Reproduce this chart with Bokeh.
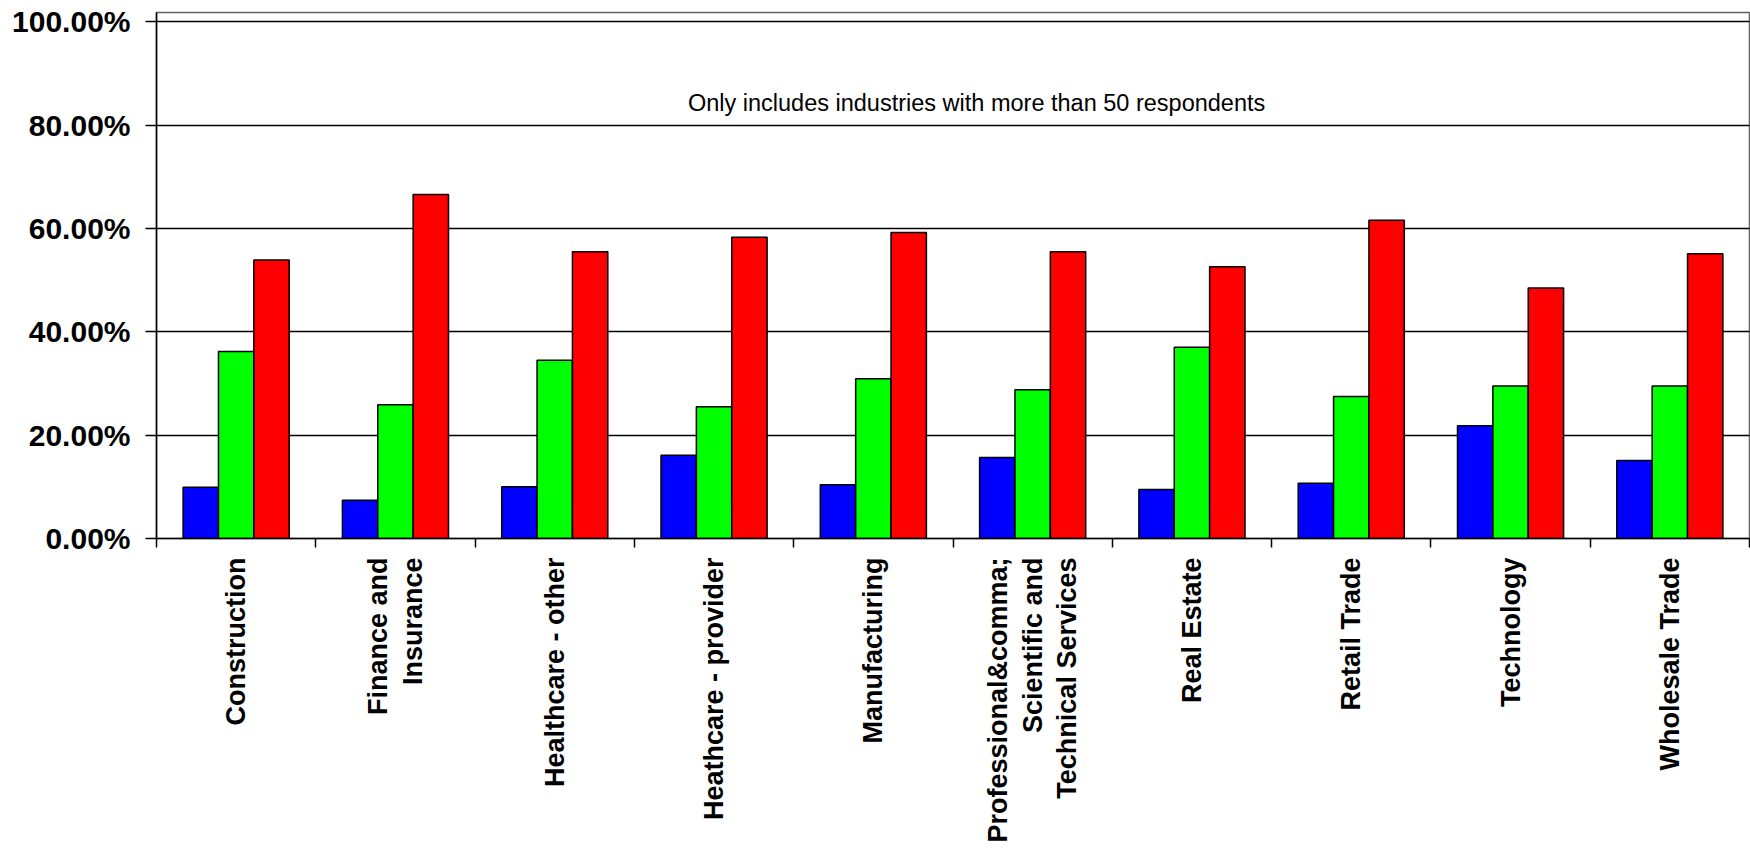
import math
import numpy as np
from bokeh.plotting import figure
from bokeh.models import (FixedTicker, NumeralTickFormatter, Range1d, Label,
                          ColumnDataSource)
from bokeh.embed import file_html
from bokeh.resources import INLINE

# ---- data ----
categories = [
    "Construction",
    "Finance and\nInsurance",
    "Healthcare - other",
    "Heathcare - provider",
    "Manufacturing",
    "Professional&comma;\nScientific and\nTechnical Services",
    "Real Estate",
    "Retail Trade",
    "Technology",
    "Wholesale Trade",
]
series_blue = [0.099, 0.074, 0.100, 0.161, 0.104, 0.157, 0.095, 0.107, 0.218, 0.151]
series_green = [0.362, 0.259, 0.345, 0.255, 0.309, 0.288, 0.370, 0.275, 0.295, 0.295]
series_red = [0.539, 0.666, 0.555, 0.583, 0.592, 0.555, 0.526, 0.616, 0.485, 0.551]
y_ticks = [0.0, 0.2, 0.4, 0.6, 0.8, 1.0]
note_text = "Only includes industries with more than 50 respondents"

n = len(categories)
idx = np.arange(n)
centers = idx + 0.5
bar_w = 0.222

p = figure(width=1750, height=852, output_backend="svg", toolbar_location=None,
           x_range=Range1d(0, n), y_range=Range1d(0, 1.018),
           min_border_left=156, min_border_right=1, min_border_top=12,
           min_border_bottom=314)
p.background_fill_color = "white"
p.border_fill_color = "white"
p.outline_line_color = "#606060"
p.outline_line_width = 1.5

series = [(series_blue, "#0000FF", -bar_w), (series_green, "#00FF00", 0.0),
          (series_red, "#FF0000", bar_w)]
for vals, col, off in series:
    src = ColumnDataSource(dict(x=centers + off, top=vals))
    p.vbar(x="x", top="top", width=bar_w, source=src, fill_color=col,
           line_color="black", line_width=1.5)

# grid
p.xgrid.visible = False
p.ygrid.ticker = FixedTicker(ticks=y_ticks)
p.ygrid.grid_line_color = "black"
p.ygrid.grid_line_width = 1.5

# y axis
ya = p.yaxis[0]
ya.ticker = FixedTicker(ticks=y_ticks)
ya.formatter = NumeralTickFormatter(format="0.00%")
ya.axis_line_color = "black"
ya.axis_line_width = 1.5
ya.major_tick_line_color = "black"
ya.major_tick_line_width = 1.5
ya.major_tick_out = 11
ya.major_tick_in = 0
ya.minor_tick_line_color = None
ya.major_label_standoff = 15
ya.major_label_text_font = "Liberation Sans"
ya.major_label_text_font_style = "bold"
ya.major_label_text_font_size = "30px"
ya.major_label_text_color = "black"

# x axis
xa = p.xaxis[0]
xa.ticker = FixedTicker(ticks=list(centers), minor_ticks=list(range(n + 1)))
xa.major_label_overrides = {float(c): lab for c, lab in zip(centers, categories)}
xa.axis_line_color = "black"
xa.axis_line_width = 1.5
xa.major_tick_line_color = None
xa.major_tick_out = 0
xa.major_tick_in = 0
xa.minor_tick_line_color = "black"
xa.minor_tick_line_width = 1.5
xa.minor_tick_out = 9
xa.minor_tick_in = 0
xa.major_label_orientation = math.pi / 2
xa.major_label_standoff = 10
xa.major_label_text_font = "Liberation Sans"
xa.major_label_text_font_style = "bold"
xa.major_label_text_font_size = "27px"
xa.major_label_text_line_height = 1.15
xa.major_label_text_color = "black"

note = Label(x=5.148, y=0.842, text=note_text, text_align="center",
             text_baseline="alphabetic", text_font="Liberation Sans",
             text_font_size="23.5px", text_color="black")
p.add_layout(note)

open("out.html", "w").write(file_html(p, INLINE))
